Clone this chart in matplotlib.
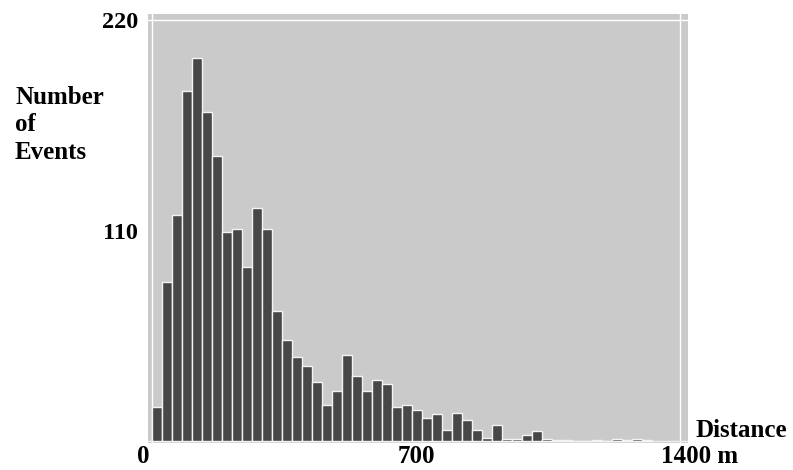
import numpy as np
import matplotlib
matplotlib.use("Agg")
import matplotlib.pyplot as plt

# counts per distance bin (left to right)
counts = [18, 83, 118, 183, 200, 172, 149, 109, 111, 91,
          122, 111, 68, 53, 44, 39, 31, 19, 26, 45,
          34, 26, 32, 30, 18, 19, 16, 12, 14, 6,
          14.5, 11, 6, 1.7, 8.5, 1.2, 1.2, 3, 5.2, 1.2,
          0.6, 0.6, 0, 0, 0.6, 0, 1, 0.6, 1, 0.6]
y_ticks = [110, 220]
y_tick_labels = ["110", "220"]
x_ticks = [0, 700, 1400]
x_tick_labels = ["0", "700", "1400 m"]

bin_width = 1400 / 52.8
left_edges = np.arange(len(counts)) * bin_width

plt.rcParams['font.family'] = ['Liberation Serif', 'DejaVu Serif']
plt.rcParams['font.weight'] = 'bold'

fig = plt.figure(figsize=(7.93, 4.70), dpi=100)
ax = fig.add_axes([148 / 793, 27 / 470, 540 / 793, 429 / 470])
ax.set_facecolor('#cacaca')

ax.bar(left_edges, counts, width=bin_width, align='edge',
       color='#474747', edgecolor='#f4f4f4', linewidth=1.0, zorder=2)

# thin white frame lines inside the grey panel
for xv in (0, 1400):
    ax.axvline(xv, color='white', lw=1.0, zorder=1)
ax.axhline(220, color='white', lw=1.0, zorder=1)
ax.axhline(0, color='#eeeeee', lw=1.0, zorder=1)

ax.set_xlim(-10.6, 1421.5)
ax.set_ylim(-1.0, 223.1)
for s in ax.spines.values():
    s.set_visible(False)

ax.set_yticks(y_ticks, y_tick_labels, fontsize=17.5, fontweight='bold')
ax.tick_params(axis='y', length=0, pad=7)
ax.set_xticks([])

# x labels sit on the bottom edge of the figure, under their values
x_offsets = [-6, 0, 14]
for val, lab, dx in zip(x_ticks, x_tick_labels, x_offsets):
    ax.annotate(lab, xy=(val, 0), xycoords=('data', 'figure pixels'),
                xytext=(dx, 1.5), textcoords='offset points',
                ha='center', va='bottom', fontsize=18, fontweight='bold',
                annotation_clip=False)

fig.text(15 / 793, 1 - 86 / 470, "Number\nof\nEvents", ha='left', va='top',
         fontsize=18, fontweight='bold', linespacing=1.25)
fig.text(696 / 793, 1 - 437 / 470, "Distance", ha='left', va='baseline',
         fontsize=18, fontweight='bold')

fig.savefig("out.png", dpi=100, facecolor='white')
